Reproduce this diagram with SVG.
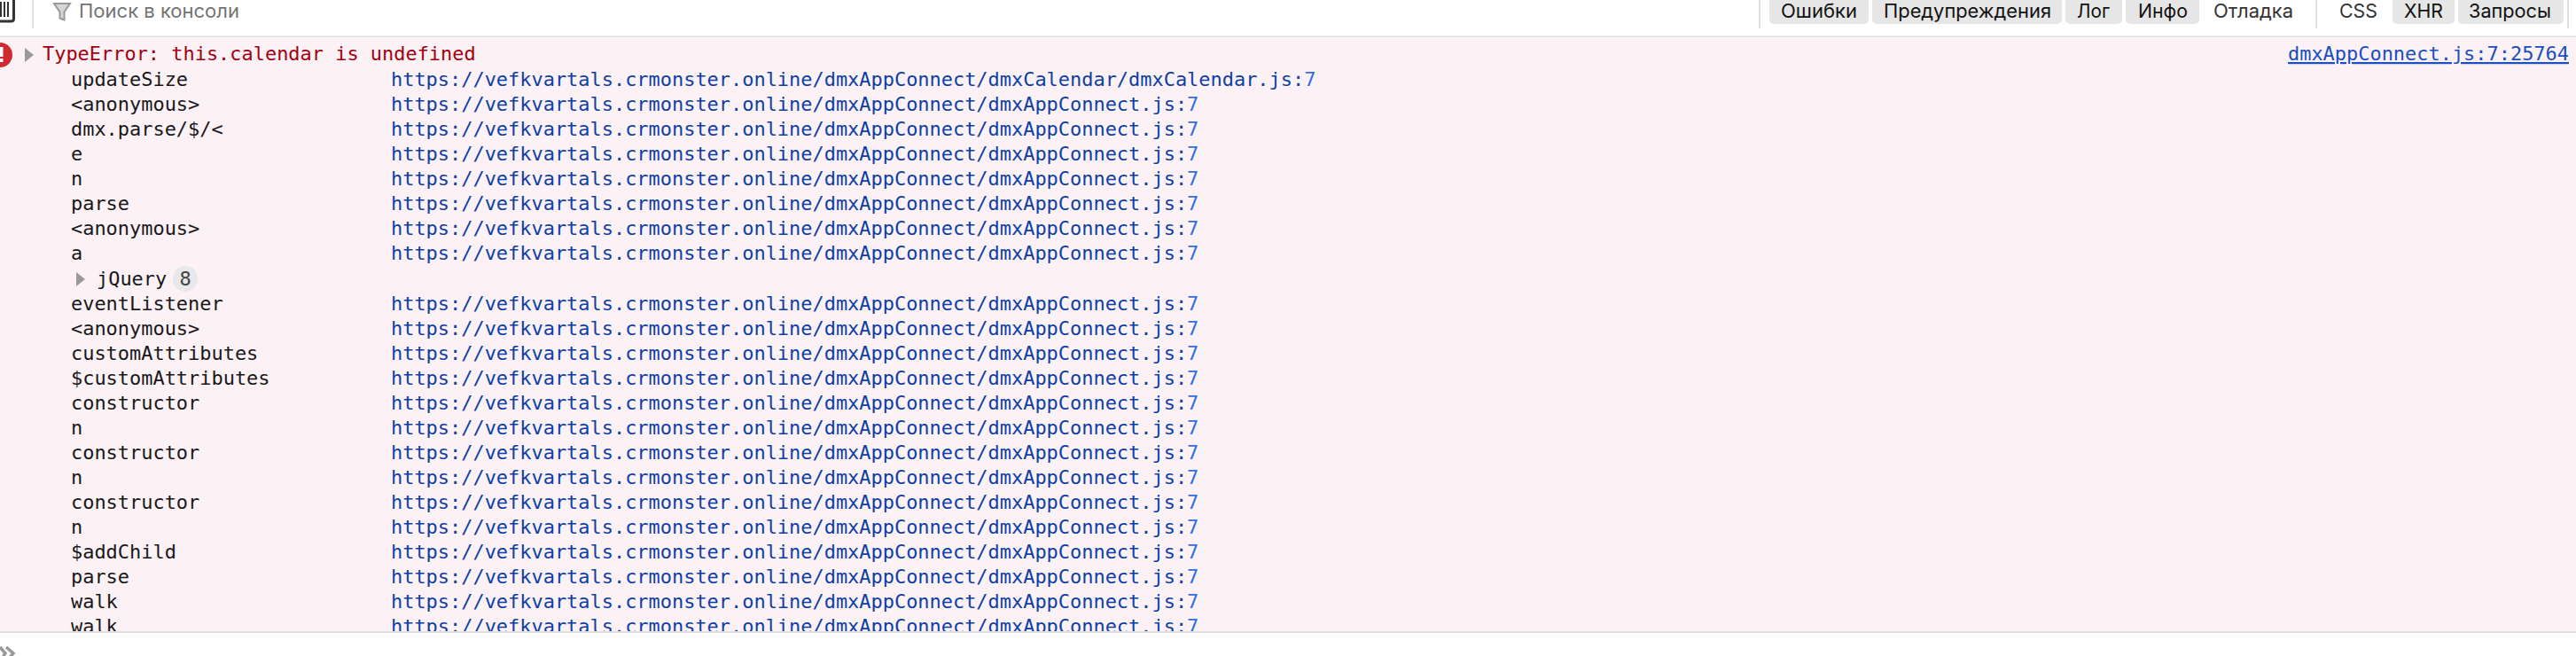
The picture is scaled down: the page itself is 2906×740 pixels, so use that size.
<svg xmlns="http://www.w3.org/2000/svg" width="2906" height="740" viewBox="0 0 2906 740">
<style>
.m{font-family:"DejaVu Sans Mono",monospace;font-size:21.95px;fill:#18181a}
.u{font-family:"DejaVu Sans Mono",monospace;font-size:21.95px;fill:#0d3fa6}
.u tspan{fill:#2f6fe0}
.s{font-family:Inter,"Liberation Sans",sans-serif;font-size:21px;fill:#111}
.d{fill:#333}
.b{fill:#e6e6e6}
.sep{stroke:#e0e0e2;stroke-width:2}
</style>
<defs><clipPath id="c"><rect x="0" y="42" width="2906" height="670"/></clipPath></defs>
<rect width="2906" height="740" fill="#fff"/>
<g id="toolbar">
<rect x="0" y="40.500" width="2906" height="2" fill="#e0e0e2"/>
<path d="M-3 -3H15.500V21Q15.500 24 12.500 24H-3" fill="#fff" stroke="#333" stroke-width="3"/>
<path d="M1 2V19M5 2V19M9 2V19" stroke="#333" stroke-width="2"/>
<line class="sep" x1="37" y1="0" x2="37" y2="32"/>
<path d="M61 4H79L72.500 13.500V22.500L67.500 20.500V13.500Z" fill="#d6d6d6" stroke="#999" stroke-width="2"/>
<text x="89" y="20" class="s" style="fill:#737373" textLength="181" lengthAdjust="spacingAndGlyphs">Поиск в консоли</text>
<line class="sep" x1="1985" y1="0" x2="1985" y2="32"/>
<line class="sep" x1="2613" y1="0" x2="2613" y2="32"/>
<line class="sep" x1="2897" y1="0" x2="2897" y2="32"/>
<rect class="b" x="1996" y="-6" width="112" height="33" rx="5"/>
<rect class="b" x="2112" y="-6" width="214" height="33" rx="5"/>
<rect class="b" x="2330" y="-6" width="64" height="33" rx="5"/>
<rect class="b" x="2398" y="-6" width="83" height="33" rx="5"/>
<rect class="b" x="2699" y="-6" width="70" height="33" rx="5"/>
<rect class="b" x="2773" y="-6" width="119" height="33" rx="5"/>
<text class="s" x="2009" y="20" textLength="86" lengthAdjust="spacingAndGlyphs">Ошибки</text>
<text class="s" x="2125" y="20" textLength="189" lengthAdjust="spacingAndGlyphs">Предупреждения</text>
<text class="s" x="2343" y="20" textLength="37" lengthAdjust="spacingAndGlyphs">Лог</text>
<text class="s" x="2412" y="20" textLength="56" lengthAdjust="spacingAndGlyphs">Инфо</text>
<text class="s d" x="2497" y="20" textLength="90" lengthAdjust="spacingAndGlyphs" style="fill:#333">Отладка</text>
<text class="s d" x="2639" y="20" textLength="43" lengthAdjust="spacingAndGlyphs" style="fill:#333">CSS</text>
<text class="s" x="2712" y="20" textLength="44" lengthAdjust="spacingAndGlyphs">XHR</text>
<text class="s" x="2785" y="20" textLength="93" lengthAdjust="spacingAndGlyphs">Запросы</text>
</g>
<g id="console">
<rect x="0" y="42" width="2906" height="670" fill="#fcf1f5"/>
<circle cx="0" cy="62" r="14" fill="#cf2a30"/>
<rect x="-1" y="53" width="4.500" height="11" fill="#fff"/><rect x="-1" y="66" width="4.500" height="4" fill="#fff"/>
<path d="M28 54L38 62L28 70Z" fill="#999"/>
<text class="m" x="48" y="68" style="fill:#a4000f">TypeError: this.calendar is undefined</text>
<text class="u" x="2581" y="68" style="fill:#1a4fc0" text-decoration="underline">dmxAppConnect.js:7:25764</text>
<g clip-path="url(#c)">
<text class="m" x="80" y="97">updateSize</text>
<text class="m" x="80" y="125">&lt;anonymous&gt;</text>
<text class="m" x="80" y="153">dmx.parse/$/&lt;</text>
<text class="m" x="80" y="181">e</text>
<text class="m" x="80" y="209">n</text>
<text class="m" x="80" y="237">parse</text>
<text class="m" x="80" y="265">&lt;anonymous&gt;</text>
<text class="m" x="80" y="293">a</text>
<path d="M86 307L96 315L86 323Z" fill="#999"/>
<text class="m" x="109" y="322">jQuery</text>
<rect x="195" y="300" width="28" height="29" rx="14" fill="#e8e8ea"/>
<text class="m" x="209" y="322" text-anchor="middle" style="fill:#444">8</text>
<text class="m" x="80" y="350">eventListener</text>
<text class="m" x="80" y="378">&lt;anonymous&gt;</text>
<text class="m" x="80" y="406">customAttributes</text>
<text class="m" x="80" y="434">$customAttributes</text>
<text class="m" x="80" y="462">constructor</text>
<text class="m" x="80" y="490">n</text>
<text class="m" x="80" y="518">constructor</text>
<text class="m" x="80" y="546">n</text>
<text class="m" x="80" y="574">constructor</text>
<text class="m" x="80" y="602">n</text>
<text class="m" x="80" y="630">$addChild</text>
<text class="m" x="80" y="658">parse</text>
<text class="m" x="80" y="686">walk</text>
<text class="m" x="80" y="714">walk</text>
<text class="u" x="441" y="97">https://vefkvartals.crmonster.online/dmxAppConnect/dmxCalendar/dmxCalendar.js:<tspan>7</tspan></text>
<text class="u" x="441" y="125">https://vefkvartals.crmonster.online/dmxAppConnect/dmxAppConnect.js:<tspan>7</tspan></text>
<text class="u" x="441" y="153">https://vefkvartals.crmonster.online/dmxAppConnect/dmxAppConnect.js:<tspan>7</tspan></text>
<text class="u" x="441" y="181">https://vefkvartals.crmonster.online/dmxAppConnect/dmxAppConnect.js:<tspan>7</tspan></text>
<text class="u" x="441" y="209">https://vefkvartals.crmonster.online/dmxAppConnect/dmxAppConnect.js:<tspan>7</tspan></text>
<text class="u" x="441" y="237">https://vefkvartals.crmonster.online/dmxAppConnect/dmxAppConnect.js:<tspan>7</tspan></text>
<text class="u" x="441" y="265">https://vefkvartals.crmonster.online/dmxAppConnect/dmxAppConnect.js:<tspan>7</tspan></text>
<text class="u" x="441" y="293">https://vefkvartals.crmonster.online/dmxAppConnect/dmxAppConnect.js:<tspan>7</tspan></text>
<text class="u" x="441" y="350">https://vefkvartals.crmonster.online/dmxAppConnect/dmxAppConnect.js:<tspan>7</tspan></text>
<text class="u" x="441" y="378">https://vefkvartals.crmonster.online/dmxAppConnect/dmxAppConnect.js:<tspan>7</tspan></text>
<text class="u" x="441" y="406">https://vefkvartals.crmonster.online/dmxAppConnect/dmxAppConnect.js:<tspan>7</tspan></text>
<text class="u" x="441" y="434">https://vefkvartals.crmonster.online/dmxAppConnect/dmxAppConnect.js:<tspan>7</tspan></text>
<text class="u" x="441" y="462">https://vefkvartals.crmonster.online/dmxAppConnect/dmxAppConnect.js:<tspan>7</tspan></text>
<text class="u" x="441" y="490">https://vefkvartals.crmonster.online/dmxAppConnect/dmxAppConnect.js:<tspan>7</tspan></text>
<text class="u" x="441" y="518">https://vefkvartals.crmonster.online/dmxAppConnect/dmxAppConnect.js:<tspan>7</tspan></text>
<text class="u" x="441" y="546">https://vefkvartals.crmonster.online/dmxAppConnect/dmxAppConnect.js:<tspan>7</tspan></text>
<text class="u" x="441" y="574">https://vefkvartals.crmonster.online/dmxAppConnect/dmxAppConnect.js:<tspan>7</tspan></text>
<text class="u" x="441" y="602">https://vefkvartals.crmonster.online/dmxAppConnect/dmxAppConnect.js:<tspan>7</tspan></text>
<text class="u" x="441" y="630">https://vefkvartals.crmonster.online/dmxAppConnect/dmxAppConnect.js:<tspan>7</tspan></text>
<text class="u" x="441" y="658">https://vefkvartals.crmonster.online/dmxAppConnect/dmxAppConnect.js:<tspan>7</tspan></text>
<text class="u" x="441" y="686">https://vefkvartals.crmonster.online/dmxAppConnect/dmxAppConnect.js:<tspan>7</tspan></text>
<text class="u" x="441" y="714">https://vefkvartals.crmonster.online/dmxAppConnect/dmxAppConnect.js:<tspan>7</tspan></text>
</g>
</g>
<g id="input">
<rect x="0" y="712" width="2906" height="2" fill="#e0e0e2"/>
<path d="M0 730L6 737L0 746M7 730L15 737L7 746" fill="none" stroke="#999" stroke-width="3.500"/>
</g>
</svg>
